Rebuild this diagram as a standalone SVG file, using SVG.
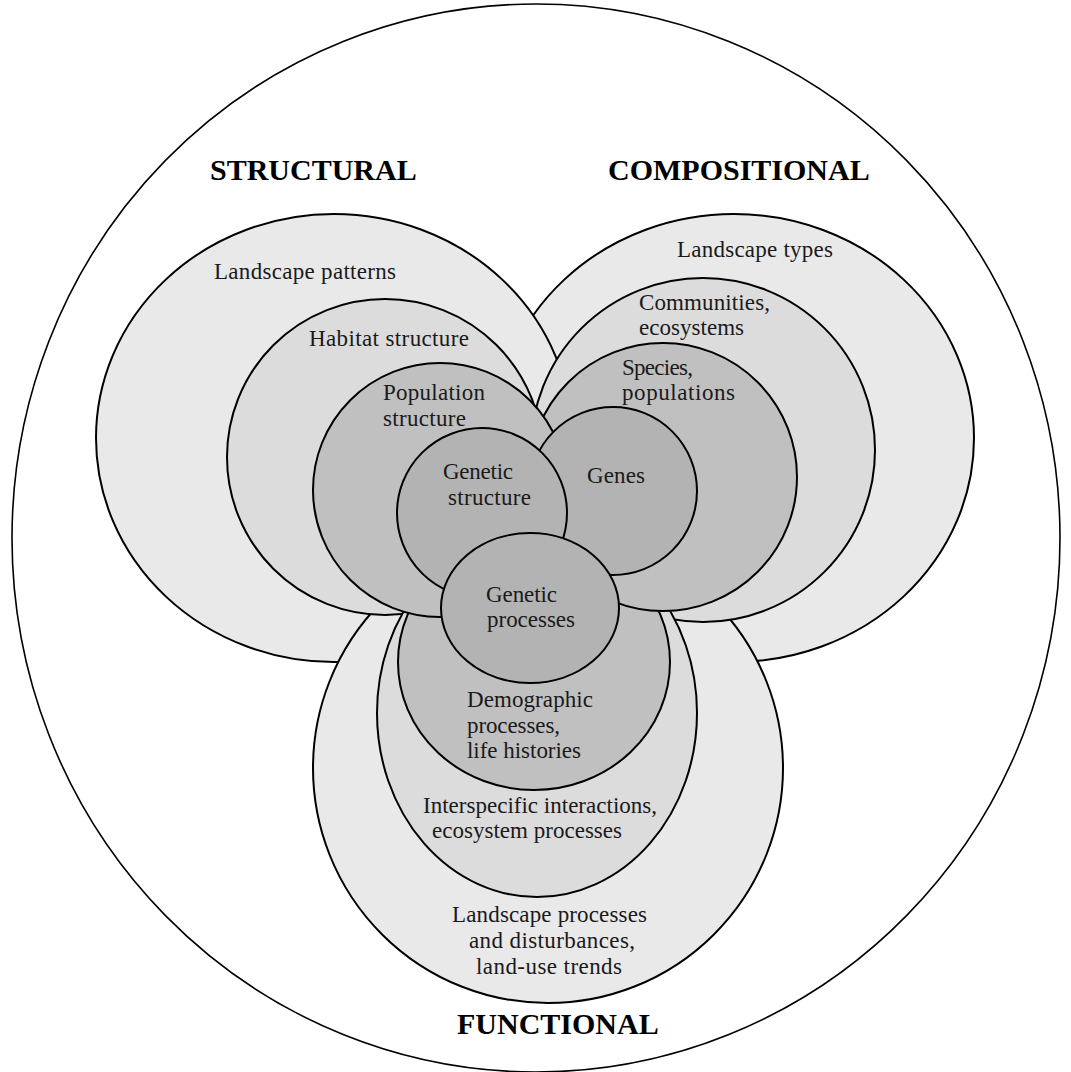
<svg xmlns="http://www.w3.org/2000/svg" width="1071" height="1072" viewBox="0 0 1071 1072">
<style>
.o{fill:#ffffff;stroke:#000;stroke-width:1.6}
.l1{fill:#e9e9e9;stroke:#000;stroke-width:2}
.l2{fill:#dcdcdc;stroke:#000;stroke-width:2}
.l3{fill:#c0c0c0;stroke:#000;stroke-width:2}
.l4{fill:#b3b3b3;stroke:#000;stroke-width:2}
text{font-family:"Liberation Serif","Times New Roman",serif;fill:#1a1a1a}
.t{font-size:23px}
.h{font-size:30px;font-weight:bold;fill:#000}
</style>
<rect width="1071" height="1072" fill="#ffffff"/>
<g id="outer"><ellipse class="o" cx="536" cy="538" rx="524" ry="534"/></g>
<g id="landscape-types"><ellipse class="l1" cx="734" cy="438" rx="240" ry="224"/><text class="t" x="677" y="257" textLength="156">Landscape types</text></g>
<g id="landscape-patterns"><ellipse class="l1" cx="334" cy="438" rx="238" ry="224"/><text class="t" x="214" y="279" textLength="182">Landscape patterns</text></g>
<g id="landscape-processes"><circle class="l1" cx="548" cy="768" r="235"/><text class="t" x="452" y="922" textLength="195">Landscape processes</text><text class="t" x="469" y="948" textLength="166">and disturbances,</text><text class="t" x="476" y="974" textLength="146">land-use trends</text></g>
<g id="communities"><circle class="l2" cx="703" cy="450" r="172"/><text class="t" x="639" y="310" textLength="131">Communities,</text><text class="t" x="639" y="335" textLength="105">ecosystems</text></g>
<g id="habitat-structure"><circle class="l2" cx="385" cy="457" r="158"/><text class="t" x="309" y="346" textLength="160">Habitat structure</text></g>
<g id="interspecific"><ellipse class="l2" cx="537" cy="713" rx="160" ry="184"/><text class="t" x="423" y="813" textLength="234">Interspecific interactions,</text><text class="t" x="432" y="838" textLength="190">ecosystem processes</text></g>
<g id="demographic"><ellipse class="l3" cx="534" cy="662" rx="136" ry="128"/><text class="t" x="467" y="707" textLength="126">Demographic</text><text class="t" x="467" y="733" textLength="93">processes,</text><text class="t" x="467" y="758" textLength="114">life histories</text></g>
<g id="species"><circle class="l3" cx="663" cy="477" r="134"/><text class="t" x="622" y="375" textLength="71">Species,</text><text class="t" x="622" y="400" textLength="113">populations</text></g>
<g id="population-structure"><circle class="l3" cx="440" cy="490" r="127"/><text class="t" x="383" y="400" textLength="102">Population</text><text class="t" x="383" y="426" textLength="83">structure</text></g>
<g id="genes"><circle class="l4" cx="613" cy="491" r="84"/><text class="t" x="587" y="483" textLength="58">Genes</text></g>
<g id="genetic-structure"><circle class="l4" cx="482" cy="513" r="85"/><text class="t" x="443" y="479" textLength="70">Genetic</text><text class="t" x="448" y="505" textLength="83">structure</text></g>
<g id="genetic-processes"><ellipse class="l4" cx="530" cy="608" rx="89" ry="75"/><text class="t" x="486" y="602" textLength="71">Genetic</text><text class="t" x="487" y="627" textLength="88">processes</text></g>
<g id="headings"><text class="h" x="210" y="180">STRUCTURAL</text><text class="h" x="608" y="180">COMPOSITIONAL</text><text class="h" x="457" y="1034">FUNCTIONAL</text></g>
<g id="connectors"></g>
</svg>
